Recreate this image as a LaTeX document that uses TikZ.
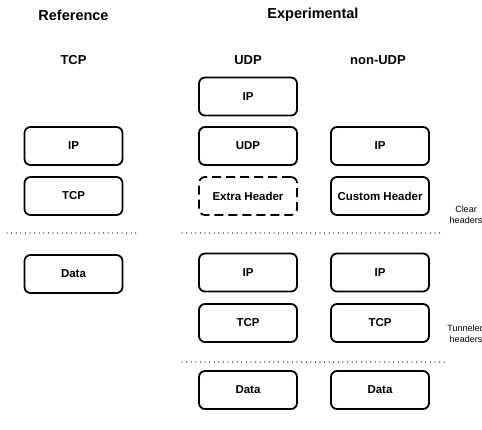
\documentclass[tikz,border=0pt]{standalone}
\usepackage{fontspec}
\setmainfont{Liberation Sans}
\usetikzlibrary{positioning}
\tikzset{
  layer/.style={draw, line width=1.8pt, rounded corners=6pt, minimum width=98pt,
    minimum height=38pt, inner sep=0pt, font=\fontsize{11.5}{13}\selectfont\bfseries},
  optlayer/.style={layer, dash pattern=on 9pt off 5pt},
  heading/.style={font=\fontsize{14.5}{17}\selectfont\bfseries},
  colhead/.style={font=\fontsize{13}{15}\selectfont\bfseries},
  sidenote/.style={align=center, font=\fontsize{9}{11}\selectfont},
  divider/.style={line width=1.3pt, dash pattern=on 0pt off 4.6pt, line cap=round}
}

\begin{document}
\begin{tikzpicture}[x=1pt,y=-1pt]
  \useasboundingbox (0,0) rectangle (482,429);

  % headings
  \node[heading] (ref) at (73.5,15) {Reference};
  \node[heading] (exp) at (313,15) {Experimental};
  \node[colhead] (tcphd) at (73.5,60) {TCP};
  \node[colhead] (udphd) at (248,60) {UDP};
  \node[colhead] (nonhd) at (378,60) {non-UDP};

  % reference stack
  \node[layer] (rip) at (73.5,146) {IP};
  \node[layer] (rtcp) at (73.5,196) {TCP};
  \node[layer] (rdata) at (73.5,274) {Data};

  % UDP stack
  \node[layer] (uip) at (248,96.5) {IP};
  \node[layer] (uudp) at (248,146) {UDP};
  \node[optlayer] (uext) at (248,196) {Extra Header};
  \node[layer] (uip2) at (248,272.5) {IP};
  \node[layer] (utcp) at (248,323) {TCP};
  \node[layer] (udata) at (248,390) {Data};

  % non-UDP stack
  \node[layer] (nip) at (380,146) {IP};
  \node[layer] (ncust) at (380,196) {Custom Header};
  \node[layer] (nip2) at (380,272.5) {IP};
  \node[layer] (ntcp) at (380,323) {TCP};
  \node[layer] (ndata) at (380,390) {Data};

  % separators
  \draw[divider] (7,233) -- (139,233);
  \draw[divider] (182,233) -- (444,233);
  \draw[divider] (182,362) -- (448,362);

  \node[sidenote] (clear) at (466,215) {Clear\\headers};
  \node[sidenote] (tunnel) at (466,334) {Tunneled\\headers};
\end{tikzpicture}
\end{document}
